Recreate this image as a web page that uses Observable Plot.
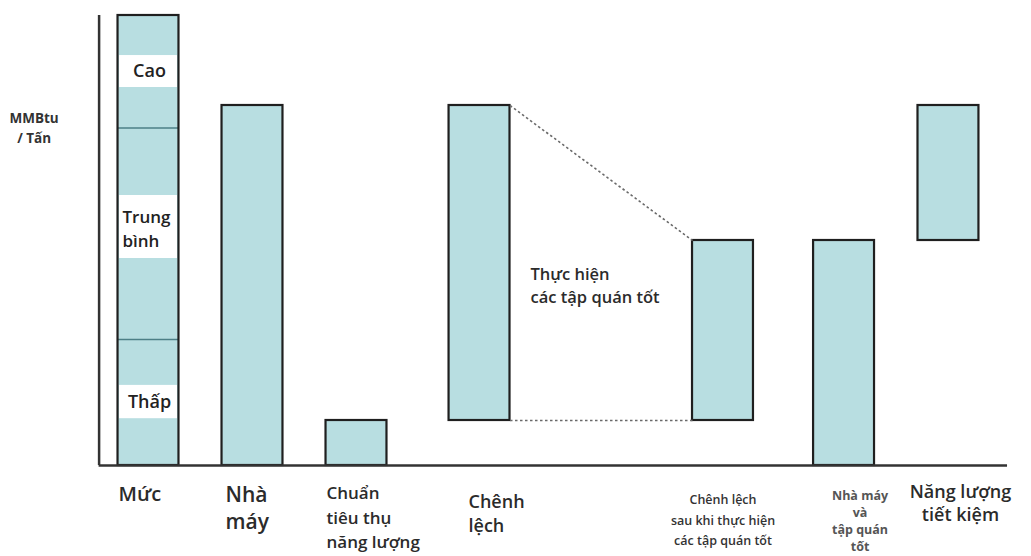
<!DOCTYPE html>
<html>
<head>
<meta charset="utf-8">
<script src="https://cdn.jsdelivr.net/npm/d3@7"></script>
<script src="https://cdn.jsdelivr.net/npm/@observablehq/plot@0.6"></script>
<style>
  html, body { margin: 0; padding: 0; background: #fff; }
  #chart { width: 1031px; height: 556px; }
  #chart svg { display: block; }
</style>
</head>
<body>
<div id="chart"></div>
<script>
// ---- Data ----
const categories = [
  "Mức",
  "Nhà\nmáy",
  "Chuẩn\ntiêu thụ\nnăng lượng",
  "Chênh\nlệch",
  "Chênh lệch\nsau khi thực hiện\ncác tập quán tốt",
  "Nhà máy\nvà\ntập quán\ntốt",
  "Năng lượng\ntiết kiệm"
];
const lows  = [0, 0, 0, 1, 1, 0, 5];   // MMBtu / Tấn, bottom of each bar
const highs = [10, 8, 1, 8, 5, 5, 8];  // MMBtu / Tấn, top of each bar

const levelLabels  = ["Cao", "Trung\nbình", "Thấp"];
const levelCenters = [8.76, 5.3, 1.41];
const levelBreaks  = [7.5, 2.8];

const yLabel = "MMBtu\n/ Tấn";
const note = "Thực hiện\ncác tập quán tốt";

// ---- Layout ----
const slots = [1, 2, 3, 4.183, 6.524, 7.688, 8.692]; // slot of each bar along x
const halfW = 0.293;
const levelBoxes = [[8.4, 9.11], [4.6, 6.0], [1.04, 1.78]];
const axisX = 0.525, axisEnd = 9.26;

const FONT = "'Open Sans', 'Noto Sans', sans-serif";
const FILL = "#b8dee1";
const INK = "#2b2b2b";

const bars = categories.map((c, i) => ({
  name: c, x1: slots[i] - halfW, x2: slots[i] + halfW, y1: lows[i], y2: highs[i]
}));
const boxes = levelLabels.map((l, i) => ({
  x1: slots[0] - halfW, x2: slots[0] + halfW, y1: levelBoxes[i][0], y2: levelBoxes[i][1]
}));

// x label styles: anchor, dx, dy (to cap top), size, weight, colour, line height
const labelStyle = [
  {anchor: "start",  dx: -30, dy: 17, size: 20, weight: 600, fill: INK, lh: 1.3},
  {anchor: "start",  dx: -27, dy: 17, size: 21, weight: 600, fill: INK, lh: 1.3},
  {anchor: "start",  dx: -30, dy: 16, size: 17, weight: 600, fill: INK, lh: 1.45},
  {anchor: "start",  dx: -11, dy: 25, size: 18, weight: 600, fill: INK, lh: 1.35},
  {anchor: "middle", dx: 0,   dy: 24, size: 12.5, weight: 600, fill: "#333", lh: 1.65},
  {anchor: "middle", dx: 16,  dy: 22, size: 12.5, weight: 700, fill: "#555", lh: 1.38},
  {anchor: "middle", dx: 12,  dy: 17, size: 18, weight: 600, fill: INK, lh: 1.25}
];

const xLabelMarks = categories.map((c, i) => {
  const s = labelStyle[i];
  return Plot.text([c], {
    x: () => slots[i], y: () => 0, text: d => d,
    textAnchor: s.anchor, lineAnchor: "top", dx: s.dx, dy: s.dy,
    fontSize: s.size, fontWeight: s.weight, fill: s.fill, lineHeight: s.lh,
    fontFamily: FONT
  });
});

const chart = Plot.plot({
  width: 1031,
  height: 556,
  margin: 0,
  x: {type: "linear", domain: [0, 9.5], range: [44, 1032], axis: null},
  y: {type: "linear", domain: [0, 10], range: [465, 15], axis: null},
  style: {fontFamily: FONT, background: "#fff"},
  marks: [
    // bar fills
    Plot.rect(bars, {x1: "x1", x2: "x2", y1: "y1", y2: "y2", fill: FILL}),
    // white label boxes inside the level bar
    Plot.rect(boxes, {x1: "x1", x2: "x2", y1: "y1", y2: "y2", fill: "#fff", insetLeft: 1.5, insetRight: 1.5}),
    // level thresholds
    Plot.ruleY(levelBreaks, {x1: slots[0] - halfW, x2: slots[0] + halfW, stroke: "#4d7f86", strokeWidth: 1.5}),
    // bar outlines
    Plot.rect(bars, {x1: "x1", x2: "x2", y1: "y1", y2: "y2", fill: "none", stroke: "#1f1f1f", strokeWidth: 2.2}),
    // dotted connectors between the gap bars
    Plot.link([
      {x1: slots[3] + halfW, y1: highs[3], x2: slots[4] - halfW, y2: highs[4]},
      {x1: slots[3] + halfW, y1: lows[3],  x2: slots[4] - halfW, y2: lows[4]}
    ], {x1: "x1", y1: "y1", x2: "x2", y2: "y2", stroke: "#6a6a6a", strokeWidth: 1.6, strokeDasharray: "2.5,2.5"}),
    // axes
    Plot.ruleX([axisX], {y1: 0, y2: 10, stroke: "#333", strokeWidth: 2.5}),
    Plot.ruleY([0], {x1: axisX, x2: axisEnd, stroke: "#333", strokeWidth: 2.5}),
    // level labels
    Plot.text([levelLabels[0], levelLabels[2]], {
      x: slots[0], y: (d, i) => [levelCenters[0], levelCenters[2]][i], text: d => d,
      fontSize: 18, fontWeight: 600, fill: "#222", fontFamily: FONT, dx: 1
    }),
    Plot.text([levelLabels[1]], {
      x: slots[0], y: levelCenters[1], text: d => d, textAnchor: "start", dx: -26,
      fontSize: 17, fontWeight: 600, fill: "#222", fontFamily: FONT, lineHeight: 1.45
    }),
    // y label
    Plot.text([yLabel], {
      x: -0.1, y: 7.94, text: d => d, lineAnchor: "top",
      fontSize: 13.5, fontWeight: 700, fill: "#333", fontFamily: FONT, lineHeight: 1.5
    }),
    // annotation in the gap
    Plot.text([note], {
      x: 4.673, y: 4.51, text: d => d, textAnchor: "start", lineAnchor: "top",
      fontSize: 16.5, fontWeight: 600, fill: INK, fontFamily: FONT, lineHeight: 1.45
    }),
    ...xLabelMarks
  ]
});

document.getElementById("chart").appendChild(chart);
</script>
</body>
</html>
